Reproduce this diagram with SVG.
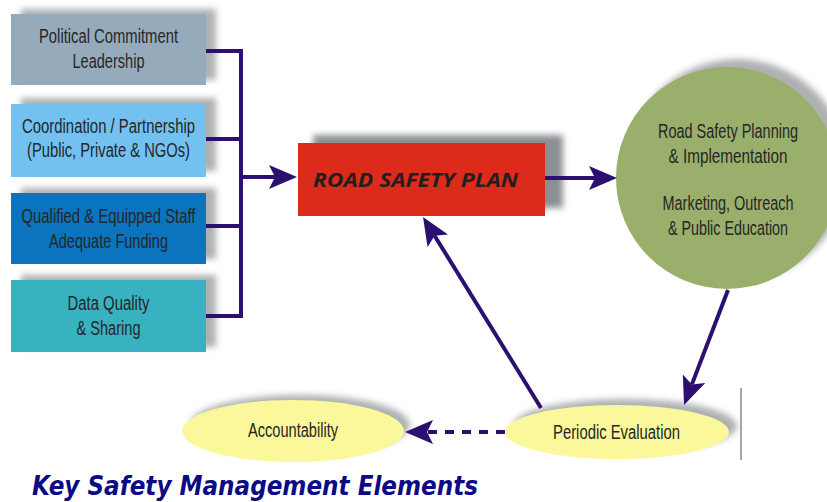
<svg xmlns="http://www.w3.org/2000/svg" width="827" height="502" viewBox="0 0 827 502">
  <style>
    .lbl { font-family: "Liberation Sans", Arial, sans-serif; font-size: 19.5px; fill: #262626; text-anchor: middle; }
    .shadow { fill: #8c8f92; filter: url(#blur); }
    .link { stroke: #2b1070; stroke-width: 4; fill: none; }
  </style>
  <defs>
    <filter id="blur" x="-20%" y="-20%" width="140%" height="140%">
      <feGaussianBlur stdDeviation="3"/>
    </filter>
    <marker id="head" viewBox="0 0 28 24" refX="6" refY="12" markerWidth="28" markerHeight="24" markerUnits="userSpaceOnUse" orient="auto">
      <path d="M0,0 L28,12 L0,24 L6,12 Z" fill="#2b1070"/>
    </marker>
  </defs>

  <!-- left column of management elements -->
  <g id="political">
    <rect class="shadow" x="21" y="9" width="195" height="71" opacity="0.7"/>
    <rect x="11" y="14" width="195" height="71" fill="#95abbc"/>
    <text class="lbl" x="108.5" y="43" textLength="139" lengthAdjust="spacingAndGlyphs">Political Commitment</text>
    <text class="lbl" x="108.5" y="68" textLength="72" lengthAdjust="spacingAndGlyphs">Leadership</text>
  </g>
  <g id="coordination">
    <rect class="shadow" x="21" y="98" width="195" height="73" opacity="0.7"/>
    <rect x="11" y="104" width="195" height="73" fill="#72c1f0"/>
    <text class="lbl" x="108.5" y="133" textLength="173" lengthAdjust="spacingAndGlyphs">Coordination / Partnership</text>
    <text class="lbl" x="108.5" y="157" textLength="163" lengthAdjust="spacingAndGlyphs">(Public, Private  &amp; NGOs)</text>
  </g>
  <g id="staff">
    <rect class="shadow" x="21" y="188" width="195" height="71" opacity="0.7"/>
    <rect x="11" y="193" width="195" height="71" fill="#0a74bf"/>
    <text class="lbl" x="108.5" y="223" textLength="174" lengthAdjust="spacingAndGlyphs">Qualified &amp; Equipped Staff</text>
    <text class="lbl" x="108.5" y="248" textLength="119" lengthAdjust="spacingAndGlyphs">Adequate Funding</text>
  </g>
  <g id="data">
    <rect class="shadow" x="21" y="275" width="195" height="72" opacity="0.7"/>
    <rect x="11" y="280" width="195" height="72" fill="#38b1c1"/>
    <text class="lbl" x="108.5" y="310" textLength="82" lengthAdjust="spacingAndGlyphs">Data Quality</text>
    <text class="lbl" x="108.5" y="335" textLength="64" lengthAdjust="spacingAndGlyphs">&amp; Sharing</text>
  </g>

  <!-- central plan -->
  <g id="plan">
    <rect class="shadow" x="313" y="135" width="250" height="73"/>
    <rect x="298" y="143" width="247" height="73" fill="#dc2b1a"/>
    <text x="313" y="187" textLength="205" lengthAdjust="spacingAndGlyphs" font-family="'Open Sans', 'Liberation Sans', sans-serif" font-size="20" font-weight="bold" font-style="italic" fill="#231f20">ROAD SAFETY PLAN</text>
  </g>

  <!-- implementation circle -->
  <g id="implementation">
    <circle class="shadow" cx="737" cy="170" r="111" opacity="0.7"/>
    <circle cx="727" cy="178" r="111" fill="#9aaf6b"/>
    <text class="lbl" x="728" y="138" textLength="140" lengthAdjust="spacingAndGlyphs">Road Safety Planning</text>
    <text class="lbl" x="728" y="163" textLength="119" lengthAdjust="spacingAndGlyphs">&amp; Implementation</text>
    <text class="lbl" x="728" y="210" textLength="131" lengthAdjust="spacingAndGlyphs">Marketing, Outreach</text>
    <text class="lbl" x="728" y="235" textLength="120" lengthAdjust="spacingAndGlyphs">&amp; Public Education</text>
  </g>

  <!-- evaluation and accountability -->
  <g id="accountability">
    <ellipse class="shadow" cx="300" cy="425" rx="110" ry="30" opacity="0.7"/>
    <ellipse cx="293" cy="431" rx="111" ry="31" fill="#faf89a"/>
    <text class="lbl" x="293" y="437" textLength="90" lengthAdjust="spacingAndGlyphs">Accountability</text>
  </g>
  <g id="evaluation">
    <ellipse class="shadow" cx="625" cy="426" rx="112" ry="27" opacity="0.7"/>
    <ellipse cx="617" cy="432" rx="112" ry="27" fill="#faf89a"/>
    <text class="lbl" x="616.5" y="439" textLength="127" lengthAdjust="spacingAndGlyphs">Periodic Evaluation</text>
  </g>

  <line x1="741" y1="388" x2="741" y2="460" stroke="#8a8a8a" stroke-width="1.5"/>

  <!-- connectors -->
  <g id="connectors">
    <path class="link" d="M206,51 H241 V316 H206 M206,139 H241 M206,226 H241"/>
    <line class="link" x1="241" y1="177" x2="275" y2="177" marker-end="url(#head)"/>
    <line class="link" x1="545" y1="178" x2="595" y2="178" marker-end="url(#head)"/>
    <line class="link" x1="728" y1="290" x2="691.9" y2="384.4" marker-end="url(#head)"/>
    <line class="link" x1="541" y1="408" x2="434.6" y2="235.7" marker-end="url(#head)"/>
    <line class="link" x1="505" y1="432" x2="427" y2="432" stroke-dasharray="9 8" marker-end="url(#head)"/>
  </g>

  <text x="32" y="495" textLength="446" lengthAdjust="spacingAndGlyphs" font-family="'DejaVu Sans', Verdana, sans-serif" font-size="26" font-weight="bold" font-style="italic" fill="#0b0b85">Key Safety Management Elements</text>
</svg>
